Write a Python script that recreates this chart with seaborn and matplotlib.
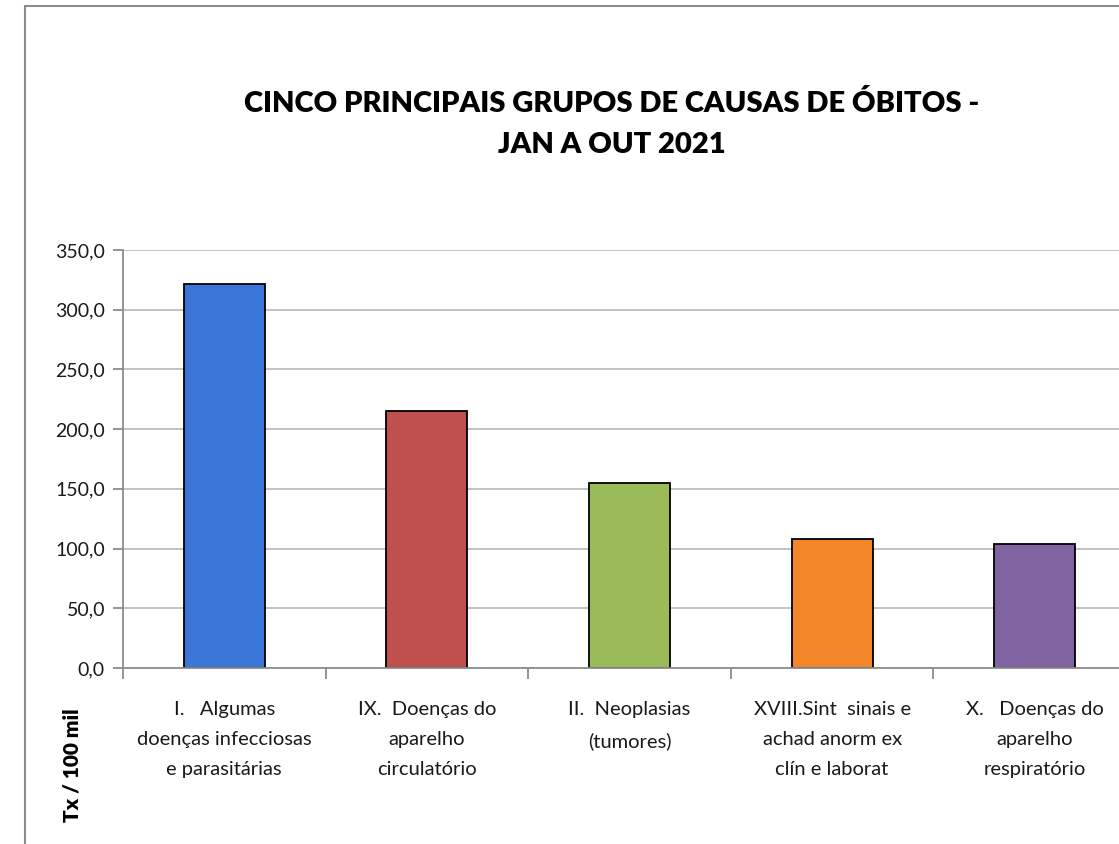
import matplotlib.pyplot as plt
import matplotlib.patches as mpatches
import pandas as pd
import seaborn as sns

# Data
categories = [
    'I.   Algumas\ndoenças infecciosas\ne parasitárias',
    'IX.  Doenças do\naparelho\ncirculatório',
    'II.  Neoplasias\n(tumores)',
    'XVIII.Sint  sinais e\nachad anorm ex\nclín e laborat',
    'X.   Doenças do\naparelho\nrespiratório',
]
values = [321.5, 215.3, 155.0, 107.8, 103.5]
colors = ['#3a76d8', '#c0504d', '#9bbb59', '#f4862a', '#8064a2']
y_ticks = [0, 50, 100, 150, 200, 250, 300, 350]

df = pd.DataFrame({'cat': categories, 'value': values})

sns.set_style('white')
plt.rcParams['font.family'] = ['Lato', 'DejaVu Sans']

W, H = 1119, 844
fig = plt.figure(figsize=(W / 100, H / 100), dpi=100)

# chart frame (runs off the right and bottom like the screenshot)
fig.patches.append(mpatches.Rectangle((25 / W, -0.2), 1.5, 1.2 - 6 / H,
                                      transform=fig.transFigure, fill=False,
                                      edgecolor='#8c8c8c', linewidth=1.5))

# plot area, wider than the figure on purpose (reference is cropped)
ax = fig.add_axes([123 / W, (H - 668) / H, 1013 / W, 418 / H])
sns.barplot(data=df, x='cat', y='value', hue='cat', palette=colors,
            saturation=1, legend=False, width=0.4, edgecolor='black',
            linewidth=1.3, ax=ax)

ax.set_ylim(0, 350)
ax.set_xlim(-0.5, len(categories) - 0.5)
ax.set_yticks(y_ticks)
ax.set_yticklabels([f'{v:.1f}'.replace('.', ',') for v in y_ticks],
                   fontsize=14, color='#1a1a1a')
ax.yaxis.grid(True, color='#bdbdbd', linewidth=1.3)
ax.set_axisbelow(True)

for s in ['top', 'right']:
    ax.spines[s].set_visible(False)
for s in ['left', 'bottom']:
    ax.spines[s].set_color('#8c8c8c')
    ax.spines[s].set_linewidth(1.3)

ax.tick_params(axis='y', length=7, color='#8c8c8c', width=1.3, left=True, pad=6)
ax.set_xticks([i + 0.5 for i in range(-1, len(categories))])
ax.set_xticklabels([])
ax.tick_params(axis='x', length=8, color='#8c8c8c', width=1.3, bottom=True)
ax.set_xlabel('')
ax.set_ylabel('')

# category labels under each bar
for i, c in enumerate(categories):
    ax.text(i, -28, c, ha='center', va='top', fontsize=14.5, color='#1a1a1a',
            linespacing=1.9)

fig.text(612 / W, 1 - 124 / H,
         'CINCO PRINCIPAIS GRUPOS DE CAUSAS DE ÓBITOS -\nJAN A OUT 2021',
         ha='center', va='center', fontsize=21, fontweight='heavy',
         color='black', linespacing=1.75)
fig.text(72 / W, 1 - 765 / H, 'Tx / 100 mil', rotation=90, ha='center',
         va='center', fontsize=15, fontweight='heavy', color='black')

fig.savefig('out.png', dpi=100)
